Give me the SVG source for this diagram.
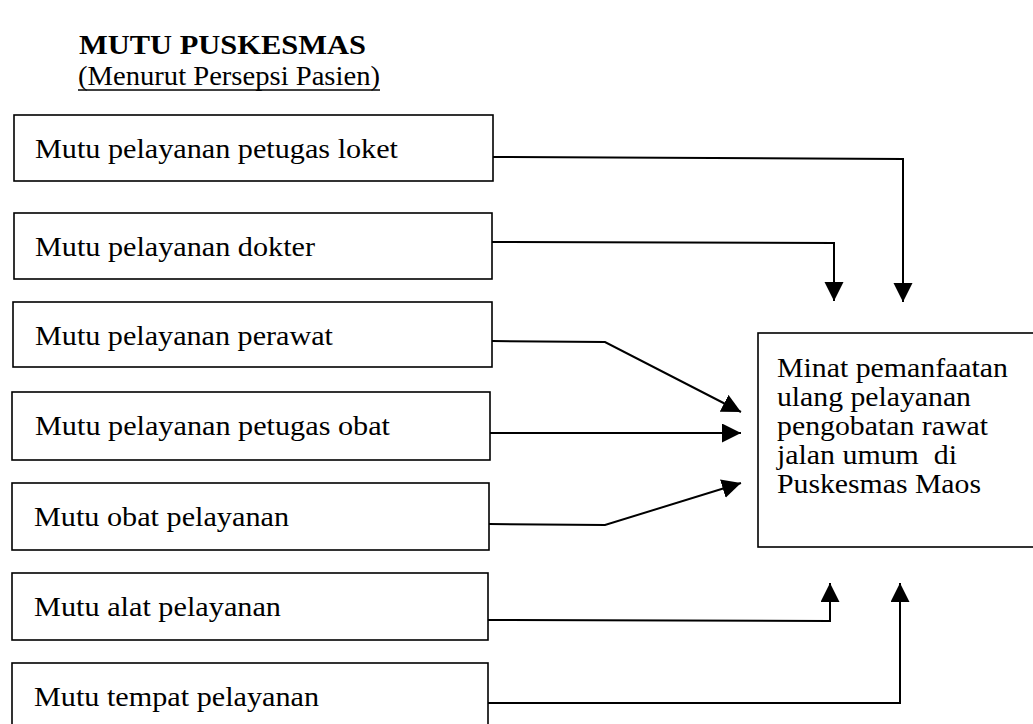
<svg xmlns="http://www.w3.org/2000/svg" width="1033" height="724" viewBox="0 0 1033 724">
<style>
.box{fill:#fff;stroke:#000;stroke-width:1.6}
.t{font-family:"Liberation Serif","Times New Roman",serif;font-size:27px;fill:#000}
.title{font-family:"Liberation Serif","Times New Roman",serif;font-size:28px;font-weight:bold;fill:#000}
.conn{fill:none;stroke:#000;stroke-width:2}
</style>
<defs>
<marker id="ah" markerUnits="userSpaceOnUse" markerWidth="20" markerHeight="20" refX="19" refY="9.5" orient="auto">
<path d="M0,0 L19,9.5 L0,19 z" fill="#000"/>
</marker>
</defs>
<rect width="1033" height="724" fill="#fff"/>
<g id="title">
<text class="title" x="79" y="54" textLength="287" lengthAdjust="spacingAndGlyphs">MUTU PUSKESMAS</text>
<text class="t" x="78" y="85" textLength="302" lengthAdjust="spacingAndGlyphs">(Menurut Persepsi Pasien)</text>
<line x1="78" y1="90" x2="380" y2="90" stroke="#000" stroke-width="1.5"/>
</g>
<g id="n1"><rect class="box" x="14" y="115" width="479" height="66"/><text class="t" x="35" y="158" textLength="363" lengthAdjust="spacingAndGlyphs">Mutu pelayanan petugas loket</text></g>
<g id="n2"><rect class="box" x="14" y="213" width="478" height="66"/><text class="t" x="35" y="256" textLength="280" lengthAdjust="spacingAndGlyphs">Mutu pelayanan dokter</text></g>
<g id="n3"><rect class="box" x="13" y="302" width="479" height="65"/><text class="t" x="35" y="345" textLength="298" lengthAdjust="spacingAndGlyphs">Mutu pelayanan perawat</text></g>
<g id="n4"><rect class="box" x="12" y="392" width="478" height="68"/><text class="t" x="35" y="435" textLength="355" lengthAdjust="spacingAndGlyphs">Mutu pelayanan petugas obat</text></g>
<g id="n5"><rect class="box" x="12" y="483" width="477" height="67"/><text class="t" x="34" y="526" textLength="255" lengthAdjust="spacingAndGlyphs">Mutu obat pelayanan</text></g>
<g id="n6"><rect class="box" x="12" y="573" width="476" height="67"/><text class="t" x="34" y="616" textLength="247" lengthAdjust="spacingAndGlyphs">Mutu alat pelayanan</text></g>
<g id="n7"><rect class="box" x="12" y="663" width="476" height="70"/><text class="t" x="34" y="706" textLength="285" lengthAdjust="spacingAndGlyphs">Mutu tempat pelayanan</text></g>
<g id="target"><rect class="box" x="758" y="333" width="290" height="214"/>
<text class="t" x="777" y="377" textLength="231" lengthAdjust="spacingAndGlyphs">Minat pemanfaatan</text>
<text class="t" x="777" y="406" textLength="194" lengthAdjust="spacingAndGlyphs">ulang pelayanan</text>
<text class="t" x="777" y="435" textLength="211" lengthAdjust="spacingAndGlyphs">pengobatan rawat</text>
<text class="t" x="777" y="464" textLength="180" lengthAdjust="spacingAndGlyphs" xml:space="preserve">jalan umum  di</text>
<text class="t" x="777" y="493" textLength="204" lengthAdjust="spacingAndGlyphs">Puskesmas Maos</text>
</g>
<g id="connectors">
<path class="conn" d="M493,157 L903,159 L903,302" marker-end="url(#ah)"/>
<path class="conn" d="M492,242 L834,243 L834,301" marker-end="url(#ah)"/>
<path class="conn" d="M492,341 L605,342 L741,412" marker-end="url(#ah)"/>
<path class="conn" d="M490,433 L741,433" marker-end="url(#ah)"/>
<path class="conn" d="M489,524 L605,525 L741,483" marker-end="url(#ah)"/>
<path class="conn" d="M488,620 L830,621 L830,583" marker-end="url(#ah)"/>
<path class="conn" d="M488,703 L900,703 L900,583" marker-end="url(#ah)"/>
</g>
</svg>
